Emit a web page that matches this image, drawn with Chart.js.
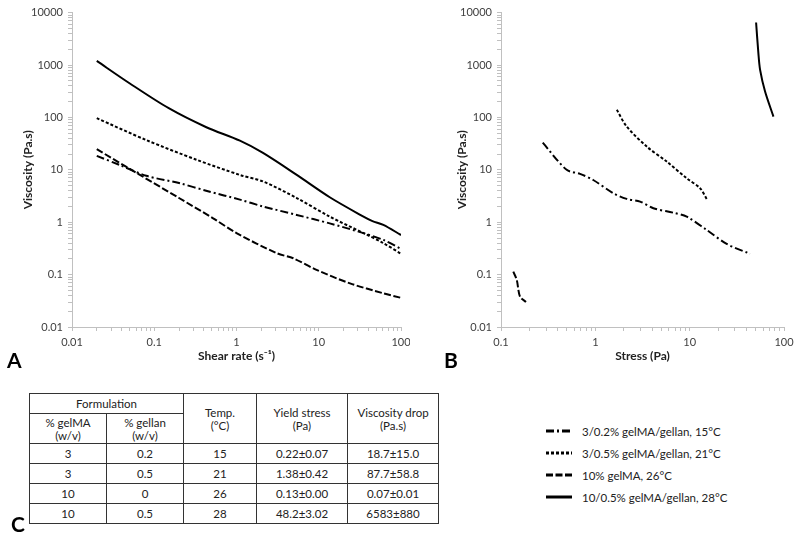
<!DOCTYPE html>
<html>
<head>
<meta charset="utf-8">
<script src="https://cdn.jsdelivr.net/npm/chart.js@4/dist/chart.umd.min.js"></script>
<style>
  body { margin: 0; background: #fff; font-family: Lato, "Open Sans", sans-serif; }
  #wrap { position: relative; width: 800px; height: 542px; overflow: hidden; }
  #cA { position: absolute; left: 0; top: 0; }
  #cB { position: absolute; left: 410px; top: 0; }
  .panel { position: absolute; font-weight: bold; font-size: 21px; line-height: 20px; color: #000; }
  table { position: absolute; left: 29px; top: 393px; border-collapse: collapse; font-size: 11.5px; color: #222; }
  td { border: 1px solid #333; text-align: center; padding: 0; line-height: 13px; }
  #legend { position: absolute; left: 546px; top: 420px; font-size: 11.5px; color: #222; }
  #legend div { height: 22px; display: flex; align-items: center; }
  #legend svg { margin-right: 10px; }
</style>
</head>
<body>
<div id="wrap">
  <canvas id="cA" width="410" height="372"></canvas>
  <canvas id="cB" width="390" height="372"></canvas>
  <div class="panel" style="left:7px; top:350px;">A</div>
  <div class="panel" style="left:444px; top:350px;">B</div>
  <div class="panel" style="left:11px; top:514px;">C</div>
  <table>
    <colgroup><col style="width:77px"><col style="width:77px"><col style="width:73px"><col style="width:91px"><col style="width:91px"></colgroup>
    <tr style="height:20px"><td colspan="2">Formulation</td><td rowspan="2">Temp.<br>(°C)</td><td rowspan="2">Yield stress<br>(Pa)</td><td rowspan="2">Viscosity drop<br>(Pa.s)</td></tr>
    <tr style="height:30px"><td>% gelMA<br>(w/v)</td><td>% gellan<br>(w/v)</td></tr>
    <tr style="height:20px"><td>3</td><td>0.2</td><td>15</td><td>0.22±0.07</td><td>18.7±15.0</td></tr>
    <tr style="height:20px"><td>3</td><td>0.5</td><td>21</td><td>1.38±0.42</td><td>87.7±58.8</td></tr>
    <tr style="height:20px"><td>10</td><td>0</td><td>26</td><td>0.13±0.00</td><td>0.07±0.01</td></tr>
    <tr style="height:20px"><td>10</td><td>0.5</td><td>28</td><td>48.2±3.02</td><td>6583±880</td></tr>
  </table>
  <div id="legend"></div>
</div>
<script>
// series names (legend order)
var names = ['3/0.2% gelMA/gellan, 15°C', '3/0.5% gelMA/gellan, 21°C', '10% gelMA, 26°C', '10/0.5% gelMA/gellan, 28°C'];
var dashes = [[8, 3, 2, 3], [3, 2], [7, 2.5], []];

// A: viscosity vs shear rate
var rateA1 = [0.02, 0.038, 0.08, 0.2, 0.45, 1.1, 2.1, 5.4, 13.6, 35, 61, 100];
var viscA1 = [18.5, 12.4, 7.7, 5.6, 3.9, 2.7, 2.0, 1.38, 0.95, 0.62, 0.46, 0.31];
var rateA2 = [0.02, 0.08, 0.33, 1.1, 2.1, 5.4, 13.6, 35, 61, 100];
var viscA2 = [97, 37, 15.5, 8.0, 6.0, 2.9, 1.28, 0.62, 0.40, 0.25];
var rateA3 = [0.02, 0.067, 0.2, 0.52, 1, 3.1, 4.9, 9.4, 24, 61, 100];
var viscA3 = [24.8, 8.0, 2.9, 1.19, 0.62, 0.256, 0.205, 0.123, 0.068, 0.044, 0.036];
var rateA4 = [0.02, 0.05, 0.15, 0.43, 1.1, 2.1, 5.4, 13.6, 35, 45, 61, 100];
var viscA4 = [1200, 450, 150, 65, 36, 21, 8.0, 3.0, 1.28, 1.05, 0.89, 0.57];

// B: viscosity vs stress
var stressB1 = [0.277, 0.497, 0.688, 0.95, 1.55, 2.15, 2.98, 4.12, 6.71, 9.31, 15.2, 24.7, 43.6];
var viscB1 = [33, 10, 8.4, 6.4, 3.58, 2.79, 2.48, 1.85, 1.52, 1.28, 0.71, 0.385, 0.25];
var stressB2 = [1.69, 2.15, 3.51, 5.71, 9.31, 12.9, 15.2];
var viscB2 = [140, 67, 27.8, 14.4, 6.9, 4.46, 2.75];
var stressB3 = [0.135, 0.147, 0.159, 0.184];
var viscB3 = [0.114, 0.079, 0.038, 0.030];
var stressB4 = [50.6, 53.5, 55.8, 63, 77.3];
var viscB4 = [6500, 1690, 811, 313, 104];

var decades = [0.01, 0.1, 1, 10, 100, 1000, 10000];

function pts(xs, ys) {
  var out = [];
  for (var i = 0; i < xs.length; i++) out.push({x: xs[i], y: ys[i]});
  return out;
}

function logTicks(min, max) {
  var t = [];
  for (var i = 0; i < decades.length; i++) {
    for (var m = 1; m <= 9; m++) {
      var v = +(decades[i] * m).toPrecision(3);
      if (v >= min && v <= max) t.push({value: v});
    }
  }
  return t;
}

function tickLabel(v) {
  return decades.indexOf(v) >= 0 ? String(v) : '';
}

function makeSets(xs, ys) {
  var sets = [];
  for (var i = 0; i < 4; i++) {
    sets.push({
      label: names[i],
      data: pts(xs[i], ys[i]),
      borderColor: '#000',
      borderWidth: 2,
      borderDash: dashes[i],
      pointRadius: 0,
      tension: 0.3,
      fill: false
    });
  }
  return sets;
}

function axis(min, max, title, isY, size, titlePad) {
  return {
    type: 'logarithmic',
    min: min,
    max: max,
    afterBuildTicks: function(s) { s.ticks = logTicks(min, max); },
    afterFit: function(s) {
      if (isY) { s.width = size; s.paddingTop = 0; s.paddingBottom = 0; }
      else { s.height = size; s.paddingLeft = 0; s.paddingRight = 0; }
    },
    ticks: {
      callback: tickLabel, autoSkip: false, maxRotation: 0, padding: 5,
      color: '#404040', font: {family: 'Lato', size: 11}
    },
    grid: {drawOnChartArea: false, tickLength: 4, color: '#c0c0c0'},
    border: {color: '#c0c0c0', width: 1},
    title: {
      display: true, text: title, color: '#222',
      font: {family: 'Lato', size: 12, weight: 'bold'},
      padding: titlePad
    }
  };
}

function makeChart(id, sets, xmin, xmax, xtitle, ylw, rpad, ytitlePad) {
  return new Chart(document.getElementById(id).getContext('2d'), {
    type: 'line',
    data: {datasets: sets},
    options: {
      responsive: false,
      animation: false,
      layout: {padding: {top: 12.7, right: rpad, left: 0, bottom: 0}},
      plugins: {legend: {display: false}, tooltip: {enabled: false}},
      scales: {
        x: axis(xmin, xmax, xtitle, false, 45, {top: 0, bottom: 9}),
        y: axis(0.01, 10000, 'Viscosity (Pa.s)', true, ylw, {top: ytitlePad, bottom: 0})
      }
    }
  });
}

makeChart('cA', makeSets([rateA1, rateA2, rateA3, rateA4], [viscA1, viscA2, viscA3, viscA4]),
  0.01, 100, 'Shear rate (s\u207B\u00B9)', 72, 9, 21);
makeChart('cB', makeSets([stressB1, stressB2, stressB3, stressB4], [viscB1, viscB2, viscB3, viscB4]),
  0.1, 100, 'Stress (Pa)', 91, 16, 45);

// legend
var lg = document.getElementById('legend');
for (var i = 0; i < names.length; i++) {
  var row = document.createElement('div');
  row.innerHTML = '<svg width="26" height="6"><line x1="0" y1="3" x2="26" y2="3" stroke="#000" stroke-width="3" stroke-dasharray="' +
    (dashes[i].length ? dashes[i].join(',') : 'none') + '"/></svg><span>' + names[i] + '</span>';
  lg.appendChild(row);
}
</script>
</body>
</html>
